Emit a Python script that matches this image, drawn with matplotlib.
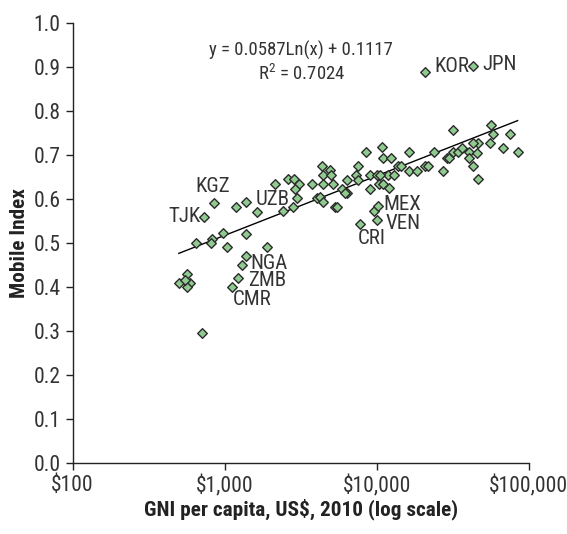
import numpy as np
import matplotlib
matplotlib.use("Agg")
from matplotlib import pyplot as plt

plt.rcParams['font.family'] = ['Roboto Condensed', 'Liberation Sans Narrow', 'DejaVu Sans']
plt.rcParams['font.stretch'] = 'condensed'
plt.rcParams['mathtext.default'] = 'regular'

# labelled countries: GNI per capita (US$, 2010) and mobile index
label_codes = ['KGZ', 'TJK', 'UZB', 'NGA', 'ZMB', 'CMR', 'MEX', 'VEN', 'CRI', 'KOR', 'JPN']
label_gni = [850, 734, 1644, 1300, 1228, 1112, 10160, 10090, 7770, 20800, 43200]
label_mobile = [0.59, 0.56, 0.57, 0.45, 0.42, 0.40, 0.585, 0.552, 0.543, 0.889, 0.902]

# other countries
gni = [645, 821, 813, 979, 1031, 562, 500, 591, 562, 545, 706,
       1181, 1380, 1374, 1914, 1380, 2143,
       2620, 2858, 3083, 2900, 2977, 2801, 2430, 3736, 4348, 4456, 4930, 4980,
       4456, 5180, 4030, 4240, 4456, 5320, 5510, 5890, 6350, 6350, 6180,
       7310, 7570, 7570, 8510, 9040, 9040, 9600,
       10790, 11050, 12420, 10000, 10350, 11050, 12100, 11810, 13060, 13870,
       14450, 16310, 16310, 18500, 20800, 21880, 23830, 27420, 28850, 30050,
       31620, 31900, 34430, 36240, 40480, 40480, 43200, 46600, 45500, 46600,
       43200, 55600, 56230, 58480, 68080, 75340, 84700, 10510]
mobile = [0.50, 0.51, 0.50, 0.522, 0.49, 0.43, 0.41, 0.41, 0.40, 0.415, 0.296,
          0.582, 0.592, 0.52, 0.49, 0.47, 0.634,
          0.645, 0.645, 0.633, 0.622, 0.603, 0.582, 0.573, 0.633, 0.675, 0.654, 0.666, 0.654,
          0.633, 0.633, 0.603, 0.605, 0.592, 0.582, 0.582, 0.622, 0.643, 0.613, 0.613,
          0.654, 0.675, 0.643, 0.706, 0.654, 0.622, 0.573,
          0.717, 0.694, 0.694, 0.654, 0.634, 0.634, 0.624, 0.654, 0.654, 0.675,
          0.675, 0.706, 0.664, 0.664, 0.675, 0.675, 0.706, 0.664, 0.694, 0.694,
          0.756, 0.706, 0.706, 0.716, 0.706, 0.694, 0.675, 0.645, 0.705, 0.726,
          0.726, 0.726, 0.768, 0.747, 0.716, 0.747, 0.706, 0.654]

# trend fit shown on chart
fit_a, fit_b = 0.0587, 0.1117
eq_text = "y = 0.0587Ln(x) + 0.1117"
r2_text = "R$^{2}$ = 0.7024"

# label offsets in pixels (dx, dy) and alignment
label_pos = {
    'KGZ': (-1, 17, 'center'), 'TJK': (-4, 0, 'right'), 'UZB': (15, 12.5, 'center'),
    'NGA': (8, 1.5, 'left'), 'ZMB': (10, -2.5, 'left'), 'CMR': (1, -12.5, 'left'),
    'MEX': (6, 1, 'left'), 'VEN': (8, -3.5, 'left'), 'CRI': (-2, -14, 'left'),
    'KOR': (9, 5, 'left'), 'JPN': (9, 1.5, 'left'),
}

all_gni = np.array(gni + label_gni, dtype=float)
all_mob = np.array(mobile + label_mobile)

fig = plt.figure(figsize=(5.67, 5.34), dpi=100)
ax = fig.add_axes([0.128, 0.1324, 0.8043, 0.8251])

xs = np.geomspace(all_gni.min(), all_gni.max(), 200)
ax.plot(xs, fit_a * np.log(xs) + fit_b, color='black', lw=1.0, zorder=2)

ax.scatter(all_gni, all_mob, marker='D', s=24, facecolor='#8fca8f',
           edgecolor='#2b2b2b', linewidth=1.0, zorder=3)

txt_color = '#333333'
for code, x, y in zip(label_codes, label_gni, label_mobile):
    dx, dy, ha = label_pos[code]
    ax.annotate(code, (x, y), xytext=(dx * 0.72, dy * 0.72), textcoords='offset points',
                ha=ha, va='center', fontsize=15, color=txt_color)

ax.text(0.50, 0.936, eq_text, transform=ax.transAxes, ha='center', va='center',
        fontsize=13.5, color=txt_color)
ax.text(0.503, 0.884, r2_text, transform=ax.transAxes, ha='center', va='center',
        fontsize=13.5, color=txt_color)

ax.set_xscale('log')
ax.set_xlim(100, 100000)
ax.set_ylim(0, 1.0)
ax.set_xticks([100, 1000, 10000, 100000])
ax.set_xticklabels(['$100', '$1,000', '$10,000', '$100,000'])
ax.xaxis.set_minor_locator(matplotlib.ticker.NullLocator())
ax.set_yticks(np.arange(0, 1.01, 0.1))
ax.set_yticklabels([f"{v:.1f}" for v in np.arange(0, 1.01, 0.1)])

for s in ['top', 'right']:
    ax.spines[s].set_visible(False)
for s in ['left', 'bottom']:
    ax.spines[s].set_color('#222222')
    ax.spines[s].set_linewidth(1.0)
ax.tick_params(labelsize=15.5, colors='#222222', labelcolor=txt_color, length=5, width=1.0)

ax.set_xlabel("GNI per capita, US$, 2010 (log scale)", fontsize=15.3, fontweight='bold',
              color='#222222', labelpad=1)
ax.set_ylabel("Mobile Index", fontsize=15.3, fontweight='bold', color='#222222', labelpad=3)

fig.savefig("out.png", dpi=100)
